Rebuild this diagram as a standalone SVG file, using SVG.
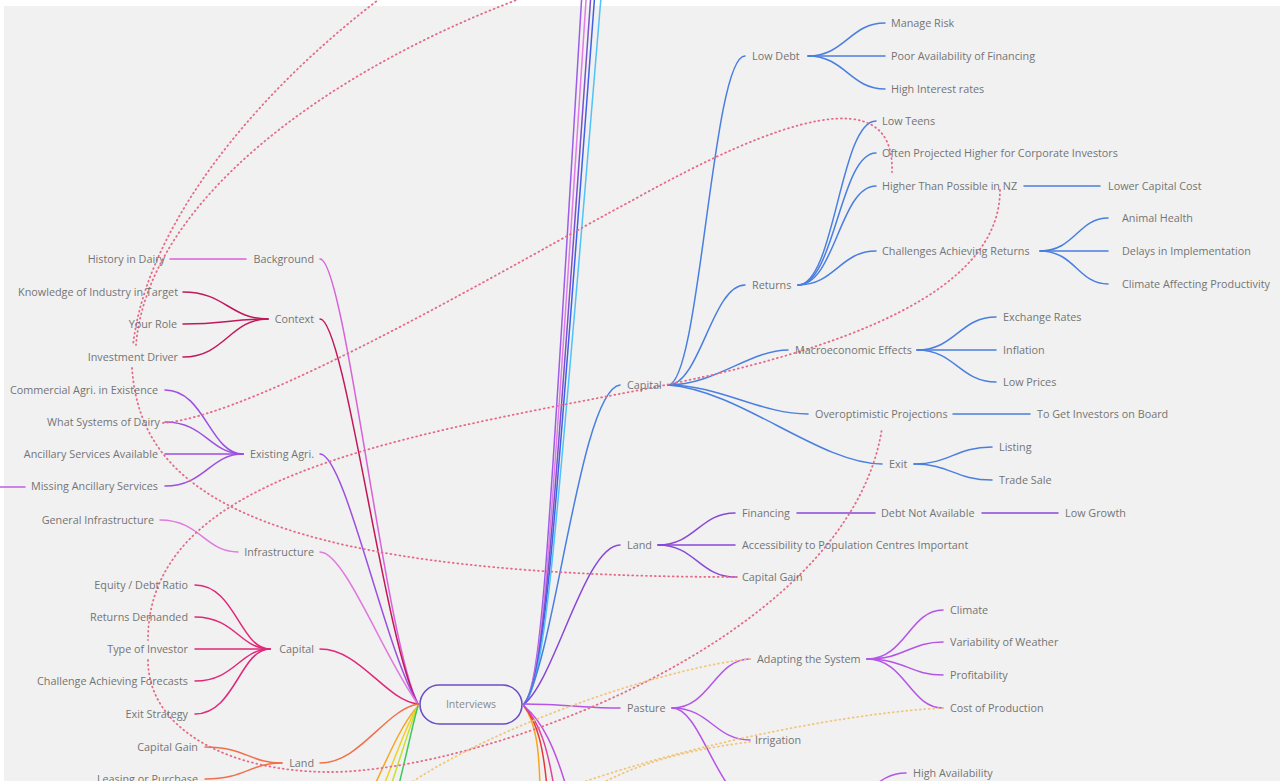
<svg xmlns="http://www.w3.org/2000/svg" width="1280" height="781" viewBox="0 0 1280 781">
<style>
text{font-family:"Open Sans","Liberation Sans",sans-serif;font-size:10.8px;fill:#747474}
.l{text-anchor:end}
.e{fill:none;stroke-width:1.5;stroke-linecap:round}
.dot{fill:none;stroke:#e46c88;stroke-width:1.8;stroke-dasharray:0.9 3.6;stroke-linecap:round}
.ydot{fill:none;stroke:#f2c57c;stroke-width:1.8;stroke-dasharray:0.9 3.6;stroke-linecap:round}
.bl{stroke:#4a7fe0}.pu{stroke:#8a48d8}.pa{stroke:#b455e8}
.bg{stroke:#d862d8}.cx{stroke:#c2185b}.ea{stroke:#9c4fe0}.inf{stroke:#e07ae0}.cap{stroke:#e0287a}.ld{stroke:#f0704a}
</style>
<rect x="0" y="0" width="1280" height="781" fill="#ffffff"/>
<rect x="4" y="6" width="1276" height="775" fill="#f1f1f1"/>
<g id="connectors">
<path class="e bg" d="M320 259 C345 259, 385 640, 418 704"/>
<path class="e cx" d="M320 319 C345 319, 385 645, 418 704"/>
<path class="e ea" d="M320 454 C345 454, 385 650, 418 704"/>
<path class="e inf" d="M320 552 C345 552, 385 660, 418 704"/>
<path class="e cap" d="M320 649 C360 649, 385 700, 418 704"/>
<path class="e ld" d="M320 763 C360 763, 385 710, 418 704"/>
<path class="e" stroke="#f5a623" d="M418 706 C405 720, 395 740, 368 800"/>
<path class="e" stroke="#f0d020" d="M418 706 C408 722, 400 745, 378 800"/>
<path class="e" stroke="#c8e030" d="M418 706 C410 724, 404 748, 386 800"/>
<path class="e" stroke="#40c860" d="M418 706 C412 726, 408 750, 395 800"/>
<path class="e" stroke="#9b5de5" d="M524 704 C545 680, 550 500, 600 -300"/>
<path class="e" stroke="#e27ae8" d="M524 704 C546 680, 552 500, 606 -300"/>
<path class="e" stroke="#7b52c8" d="M524 704 C547 680, 554 500, 612 -300"/>
<path class="e" stroke="#4060e8" d="M524 704 C548 680, 556 500, 617 -300"/>
<path class="e" stroke="#4fc3f7" d="M524 704 C549 680, 558 500, 626 -300"/>
<path class="e bl" d="M524 704 C555 660, 580 390, 620 385"/>
<path class="e pu" d="M524 704 C555 680, 585 545, 620 545"/>
<path class="e pa" d="M524 704 C560 704, 590 708, 620 708"/>
<path class="e" stroke="#f5a623" d="M524 706 C535 722, 540 745, 540 800"/>
<path class="e" stroke="#e53935" d="M524 706 C537 722, 544 745, 548 800"/>
<path class="e" stroke="#e040a0" d="M524 706 C539 722, 548 745, 556 800"/>
<path class="e" stroke="#c050e0" d="M524 706 C541 720, 555 745, 570 800"/>
<path class="e bl" d="M668 385 C700 385, 712 56, 745 56"/>
<path class="e bl" d="M668 385 C700 385, 712 285, 745 285"/>
<path class="e bl" d="M668 385 C715 385, 750 350, 788 350"/>
<path class="e bl" d="M668 385 C720 385, 760 414, 808 414"/>
<path class="e bl" d="M668 385 C740 390, 820 464, 882 464"/>
<path class="e bl" d="M808 56 C845 56, 850 23, 885 23"/>
<path class="e bl" d="M808 56 L885 56"/>
<path class="e bl" d="M808 56 C845 56, 850 89, 885 89"/>
<path class="e bl" d="M798 285 C835 285, 840 121, 876 121"/>
<path class="e bl" d="M798 285 C835 285, 840 153, 876 153"/>
<path class="e bl" d="M798 285 C835 285, 840 186, 876 186"/>
<path class="e bl" d="M798 285 C835 285, 840 251, 876 251"/>
<path class="e bl" d="M1024 186 L1100 186"/>
<path class="e bl" d="M1040 251 C1075 251, 1078 218, 1108 218"/>
<path class="e bl" d="M1040 251 L1108 251"/>
<path class="e bl" d="M1040 251 C1075 251, 1078 284, 1108 284"/>
<path class="e bl" d="M917 350 C955 350, 960 317, 996 317"/>
<path class="e bl" d="M917 350 L996 350"/>
<path class="e bl" d="M917 350 C955 350, 960 382, 996 382"/>
<path class="e bl" d="M953 414 L1030 414"/>
<path class="e bl" d="M914 464 C950 464, 955 447, 992 447"/>
<path class="e bl" d="M914 464 C950 464, 955 480, 992 480"/>
<path class="e pu" d="M658 545 C695 545, 700 513, 735 513"/>
<path class="e pu" d="M658 545 L735 545"/>
<path class="e pu" d="M658 545 C695 545, 700 577, 735 577"/>
<path class="e pu" d="M797 513 L875 513"/>
<path class="e pu" d="M982 513 L1058 513"/>
<path class="e pa" d="M672 708 C710 708, 715 659, 750 659"/>
<path class="e pa" d="M672 708 C710 708, 715 740, 750 740"/>
<path class="e pa" d="M672 708 C700 708, 715 790, 750 805"/>
<path class="e pa" d="M867 659 C905 659, 910 610, 943 610"/>
<path class="e pa" d="M867 659 C905 659, 910 642, 943 642"/>
<path class="e pa" d="M867 659 C905 659, 910 675, 943 675"/>
<path class="e pa" d="M867 659 C905 659, 910 708, 943 708"/>
<path class="e pa" d="M840 805 C870 800, 875 773, 906 773"/>
<path class="e bg" d="M170 259 L246 259"/>
<path class="e cx" d="M183 292 C225 292, 230 319, 268 319"/>
<path class="e cx" d="M183 324 C225 324, 230 319, 268 319"/>
<path class="e cx" d="M183 357 C225 357, 230 319, 268 319"/>
<path class="e ea" d="M165 390 C205 390, 210 454, 243 454"/>
<path class="e ea" d="M165 422 C205 422, 210 454, 243 454"/>
<path class="e ea" d="M165 454 L243 454"/>
<path class="e ea" d="M165 486 C205 486, 210 454, 243 454"/>
<path class="e" stroke="#c060e0" d="M-5 487 L25 487"/>
<path class="e inf" d="M160 520 C200 520, 205 552, 238 552"/>
<path class="e cap" d="M195 585 C235 585, 240 649, 270 649"/>
<path class="e cap" d="M195 617 C235 617, 240 649, 270 649"/>
<path class="e cap" d="M195 649 L270 649"/>
<path class="e cap" d="M195 681 C235 681, 240 649, 270 649"/>
<path class="e cap" d="M195 714 C235 714, 240 649, 270 649"/>
<path class="e ld" d="M205 747 C245 747, 250 763, 282 763"/>
<path class="e ld" d="M205 779 C245 779, 250 763, 282 763"/>
<path class="dot" d="M420 -30 C300 50, 150 200, 133 345"/>
<path class="dot" d="M575 -20 C380 40, 150 180, 136 345"/>
<path class="dot" d="M132 368 C140 480, 230 577, 740 577"/>
<path class="dot" d="M163 423 C260 415, 520 260, 633 200 C780 118, 895 80, 892 172"/>
<path class="dot" d="M1000 190 C1000 290, 850 350, 640 390 C380 440, 148 480, 148 640"/>
<path class="dot" d="M148 660 C148 730, 230 772, 330 772 C480 772, 850 640, 882 428"/>
<path class="ydot" d="M750 659 C680 665, 500 720, 400 790"/>
<path class="ydot" d="M943 708 C860 712, 700 740, 560 790"/>
<path class="ydot" d="M750 742 C700 748, 640 760, 590 790"/>
</g>
<g id="interviews">
<rect x="420" y="685" width="102" height="39" rx="19.5" fill="#f3f3f3" stroke="#6b4fc4" stroke-width="1.6"/>
<text x="471" y="708" text-anchor="middle" style="font-size:10.5px;fill:#8a8a8a">Interviews</text>
</g>
<g id="left-nodes">
<g id="n-background"><text class="l" x="314" y="262.5">Background</text></g>
<g id="n-history"><text class="l" x="165" y="262.5">History in Dairy</text></g>
<g id="n-context"><text class="l" x="314" y="322.5">Context</text></g>
<g id="n-knowledge"><text class="l" x="178" y="295.5">Knowledge of Industry in Target</text></g>
<g id="n-role"><text class="l" x="177" y="327.5">Your Role</text></g>
<g id="n-driver"><text class="l" x="178" y="360.5">Investment Driver</text></g>
<g id="n-existing"><text class="l" x="314" y="457.5">Existing Agri.</text></g>
<g id="n-commercial"><text class="l" x="158" y="393.5">Commercial Agri. in Existence</text></g>
<g id="n-systems"><text class="l" x="160" y="425.5">What Systems of Dairy</text></g>
<g id="n-ancillary"><text class="l" x="158" y="457.5">Ancillary Services Available</text></g>
<g id="n-missing"><text class="l" x="158" y="489.5">Missing Ancillary Services</text></g>
<g id="n-infra"><text class="l" x="314" y="555.5">Infrastructure</text></g>
<g id="n-geninfra"><text class="l" x="154" y="523.5">General Infrastructure</text></g>
<g id="n-capital-l"><text class="l" x="314" y="652.5">Capital</text></g>
<g id="n-equity"><text class="l" x="188" y="588.5">Equity / Debt Ratio</text></g>
<g id="n-retdem"><text class="l" x="188" y="620.5">Returns Demanded</text></g>
<g id="n-type"><text class="l" x="188" y="652.5">Type of Investor</text></g>
<g id="n-chall"><text class="l" x="188" y="684.5">Challenge Achieving Forecasts</text></g>
<g id="n-exitstr"><text class="l" x="188" y="717.5">Exit Strategy</text></g>
<g id="n-land-l"><text class="l" x="314" y="766.5">Land</text></g>
<g id="n-capgain-l"><text class="l" x="198" y="750.5">Capital Gain</text></g>
<g id="n-leasing"><text class="l" x="198" y="782.5">Leasing or Purchase</text></g>
</g>
<g id="right-nodes">
<g id="n-capital-r"><text x="627" y="388.5">Capital</text></g>
<g id="n-lowdebt"><text x="752" y="59.5">Low Debt</text></g>
<g id="n-risk"><text x="891" y="26.5">Manage Risk</text></g>
<g id="n-poor"><text x="891" y="59.5">Poor Availability of Financing</text></g>
<g id="n-high"><text x="891" y="92.5">High Interest rates</text></g>
<g id="n-returns"><text x="752" y="288.5">Returns</text></g>
<g id="n-teens"><text x="882" y="124.5">Low Teens</text></g>
<g id="n-often"><text x="882" y="156.5">Often Projected Higher for Corporate Investors</text></g>
<g id="n-higher"><text x="882" y="189.5">Higher Than Possible in NZ</text></g>
<g id="n-lower"><text x="1108" y="189.5">Lower Capital Cost</text></g>
<g id="n-challret"><text x="882" y="254.5">Challenges Achieving Returns</text></g>
<g id="n-animal"><text x="1122" y="221.5">Animal Health</text></g>
<g id="n-delays"><text x="1122" y="254.5">Delays in Implementation</text></g>
<g id="n-climaff"><text x="1122" y="287.5">Climate Affecting Productivity</text></g>
<g id="n-macro"><text x="795" y="353.5">Macroeconomic Effects</text></g>
<g id="n-exch"><text x="1003" y="320.5">Exchange Rates</text></g>
<g id="n-infl"><text x="1003" y="353.5">Inflation</text></g>
<g id="n-lowprices"><text x="1003" y="385.5">Low Prices</text></g>
<g id="n-overopt"><text x="815" y="417.5">Overoptimistic Projections</text></g>
<g id="n-toget"><text x="1037" y="417.5">To Get Investors on Board</text></g>
<g id="n-exit"><text x="889" y="467.5">Exit</text></g>
<g id="n-listing"><text x="999" y="450.5">Listing</text></g>
<g id="n-trade"><text x="999" y="483.5">Trade Sale</text></g>
<g id="n-land-r"><text x="627" y="548.5">Land</text></g>
<g id="n-financing"><text x="742" y="516.5">Financing</text></g>
<g id="n-debtna"><text x="881" y="516.5">Debt Not Available</text></g>
<g id="n-lowgrowth"><text x="1065" y="516.5">Low Growth</text></g>
<g id="n-access"><text x="742" y="548.5">Accessibility to Population Centres Important</text></g>
<g id="n-capgain-r"><text x="742" y="580.5">Capital Gain</text></g>
<g id="n-pasture"><text x="627" y="711.5">Pasture</text></g>
<g id="n-adapt"><text x="757" y="662.5">Adapting the System</text></g>
<g id="n-irrig"><text x="755" y="743.5">Irrigation</text></g>
<g id="n-climate"><text x="950" y="613.5">Climate</text></g>
<g id="n-variab"><text x="950" y="645.5">Variability of Weather</text></g>
<g id="n-profit"><text x="950" y="678.5">Profitability</text></g>
<g id="n-cost"><text x="950" y="711.5">Cost of Production</text></g>
<g id="n-highavail"><text x="913" y="776.5">High Availability</text></g>
</g>
</svg>
